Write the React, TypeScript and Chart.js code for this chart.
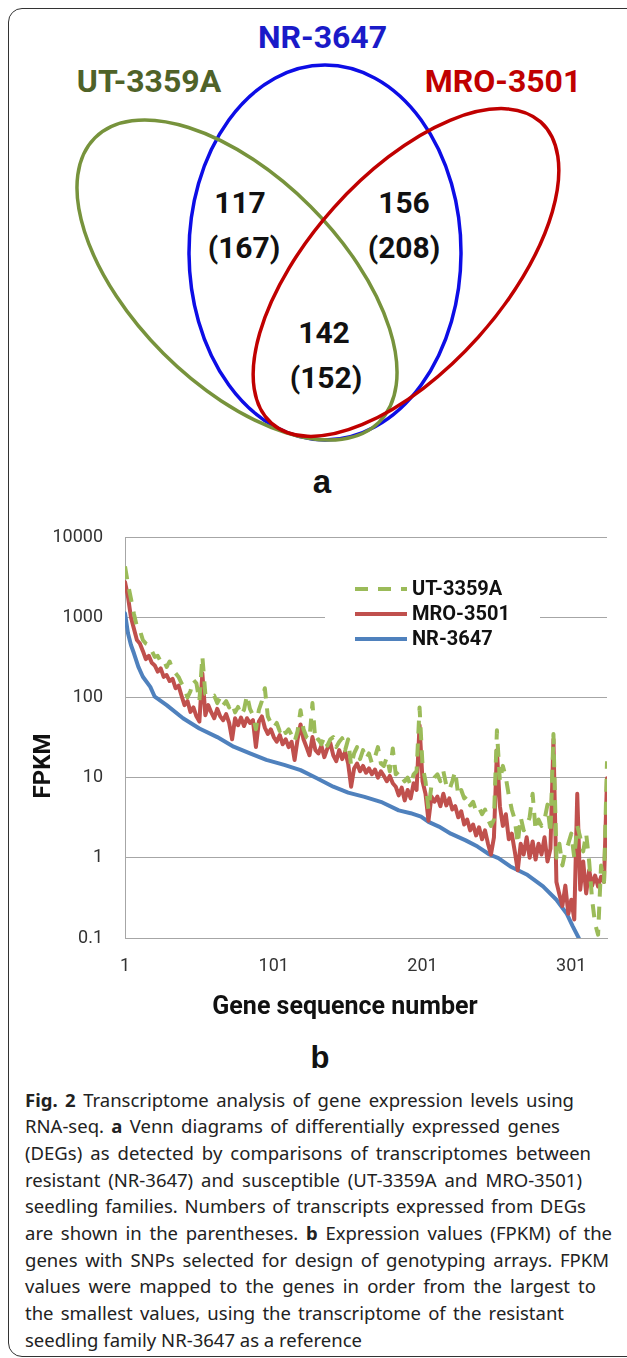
import React, { useEffect, useRef } from "react";
import { Chart, registerables } from "chart.js";

Chart.register(...registerables);

// ---------- Venn (panel a) ----------
const VENN_SETS = ["UT-3359A", "NR-3647", "MRO-3501"];
const VENN_SET_COLORS = ["#4f6228", "#1a1ac8", "#c00000"];
const VENN_RING_COLORS = ["#77933c", "#0d0de6", "#c00000"];
const VENN_GENES = ["117", "156", "142"];
const VENN_TRANSCRIPTS = ["(167)", "(208)", "(152)"];

// ---------- Line chart (panel b) ----------
const SERIES_NAMES = ["UT-3359A", "MRO-3501", "NR-3647"];
const SERIES_COLORS = ["#9BBB59", "#C0504D", "#4F81BD"];
const X_TICKS = [1, 101, 201, 301];
const Y_TICKS = [0.1, 1, 10, 100, 1000, 10000];

const GENE_IDX = [
  1, 3, 5, 7, 9, 11, 13, 15, 17, 19, 21, 23, 25, 27, 29, 31, 33, 35, 37, 39,
  41, 43, 45, 47, 49, 51, 53, 55, 57, 59, 61, 63, 65, 67, 69, 71, 73, 75, 77, 79,
  81, 83, 85, 87, 89, 91, 93, 95, 97, 99, 101, 103, 105, 107, 109, 111, 113, 115, 117, 119,
  121, 123, 125, 127, 129, 131, 133, 135, 137, 139, 141, 143, 145, 147, 149, 151, 153, 155, 157, 159,
  161, 163, 165, 167, 169, 171, 173, 175, 177, 179, 181, 183, 185, 187, 189, 191, 193, 195, 197, 199,
  201, 203, 205, 207, 209, 211, 213, 215, 217, 219, 221, 223, 225, 227, 229, 231, 233, 235, 237, 239,
  241, 243, 245, 247, 249, 251, 253, 255, 257, 259, 261, 263, 265, 267, 269, 271, 273, 275, 277, 279,
  281, 283, 285, 287, 289, 291, 293, 295, 297, 299, 301, 303, 305, 307, 309, 311, 313, 315, 317, 319,
  321, 323, 325,
];

const UT_FPKM = [
  4300, 2600, 1700, 1100, 760, 690, 520, 470, 450, 380,
  320, 330, 280, 295, 240, 280, 220, 200, 180, 150,
  130, 100, 120, 165, 150, 90, 325, 110, 107, 100,
  105, 85, 100, 80, 90, 75, 85, 65, 76, 60,
  70, 107, 72, 60, 40, 70, 90, 130, 58, 48,
  42, 48, 38, 44, 36, 40, 34, 28, 38, 69,
  40, 32, 30, 85, 28, 30, 26, 32, 25, 30,
  32, 24, 28, 31, 22, 30, 14, 20, 24, 17,
  22, 17, 20, 15, 18, 24, 15, 14, 18, 12,
  23, 11, 12, 10, 9, 10, 8, 11, 12, 75,
  14, 9, 4, 8, 10, 11, 9, 12, 8, 7,
  9, 12, 6, 7, 5.5, 6, 4.5, 5, 3.8, 4.2,
  3.5, 4, 3, 2.5, 3, 39, 9, 14, 10, 6,
  4, 3, 1.5, 3.2, 2.2, 2.5, 3.2, 6.3, 2.2, 3,
  2.5, 3, 4.6, 2, 35, 1.0, 1.5, 0.8, 1.2, 1.5,
  2.0, 1.0, 2.5, 1.8, 1.2, 2.0, 0.9, 0.3, 0.15, 0.11,
  0.8, 0.5, 16,
];

const MRO_FPKM = [
  2750, 1800, 1000, 720, 520, 470, 380, 300, 330, 270,
  250, 210, 230, 180, 190, 160, 170, 130, 140, 105,
  80, 90, 66, 75, 58, 50, 200, 60, 80, 65,
  55, 72, 58, 52, 62, 48, 30, 55, 45, 56,
  44, 55, 48, 52, 24, 50, 58, 42, 35, 40,
  32, 28, 34, 26, 30, 24, 28, 16.6, 30, 46,
  30, 24, 19, 32, 22, 20, 25, 18, 23, 27,
  19, 16, 22, 17, 21, 15, 7.7, 13, 15, 12,
  14, 11.5, 13, 11, 12.6, 10, 12, 10.5, 9, 10.5,
  8.5, 7.7, 6, 7.5, 5.2, 7, 5.5, 8.5, 7, 45,
  9, 6.3, 2.9, 5.8, 5, 5.8, 4.4, 6.3, 4.5, 5.5,
  4, 4.4, 3.2, 3.8, 2.6, 3, 2.2, 2.6, 1.9, 2.4,
  1.7, 2.2, 1.5, 1.1, 1.8, 22, 4.4, 2.5, 3.5, 1.7,
  2, 1.2, 0.7, 1.5, 1.1, 1.8, 1.0, 1.6, 0.95, 1.5,
  1.1, 1.8, 0.9, 1.3, 30, 0.5, 0.35, 0.25, 0.45, 0.2,
  0.3, 0.17, 6.3, 0.4, 0.9, 0.36, 0.7, 0.45, 0.6, 0.44,
  0.58, 0.5, 9.8,
];

const NR_IDX = [
  1, 3, 5, 7, 10, 13, 18, 21, 29, 40, 51, 63, 74, 85, 96, 108, 119, 130, 141, 151,
  162, 174, 185, 193, 200, 205, 212, 220, 230, 238, 246, 252, 260, 271, 282, 291, 298, 302, 306, 309,
];
const NR_FPKM = [
  1120, 630, 450, 355, 240, 181, 135, 102, 80, 55, 41, 32, 24.3, 20, 16.6, 14.4, 12.4, 9.8, 7.7, 6.5,
  5.75, 4.9, 3.9, 3.6, 3.26, 2.8, 2.45, 2.0, 1.65, 1.38, 1.1, 0.99, 0.78, 0.62, 0.44, 0.3, 0.2, 0.14, 0.1, 0.08,
];

const CAPTION_LINES: { parts: [string, boolean][]; width: number | null }[] = [
  { parts: [["Fig. 2", true], [" Transcriptome analysis of gene expression levels using", false]], width: 549 },
  { parts: [["RNA-seq. ", false], ["a", true], [" Venn diagrams of differentially expressed genes", false]], width: 535 },
  { parts: [["(DEGs) as detected by comparisons of transcriptomes between", false]], width: 566 },
  { parts: [["resistant (NR-3647) and susceptible (UT-3359A and MRO-3501)", false]], width: 557 },
  { parts: [["seedling families. Numbers of transcripts expressed from DEGs", false]], width: 561 },
  { parts: [["are shown in the parentheses. ", false], ["b", true], [" Expression values (FPKM) of the", false]], width: 587 },
  { parts: [["genes with SNPs selected for design of genotyping arrays. FPKM", false]], width: 584 },
  { parts: [["values were mapped to the genes in order from the largest to", false]], width: 571 },
  { parts: [["the smallest values, using the transcriptome of the resistant", false]], width: 539 },
  { parts: [["seedling family NR-3647 as a reference", false]], width: null },
];

function toPoints(xs: number[], ys: number[]) {
  return xs.map((x, i) => ({ x, y: ys[i] }));
}

const overlayPlugin = {
  id: "overlay",
  beforeDatasetsDraw(chart: any) {
    const ctx = chart.ctx as CanvasRenderingContext2D;
    ctx.save();
    ctx.fillStyle = "#ffffff";
    ctx.fillRect(325, 66, 215, 94);
    const rows = [89, 114, 139];
    chart.data.datasets.forEach((ds: any, i: number) => {
      const y = rows[i];
      ctx.beginPath();
      ctx.strokeStyle = ds.borderColor;
      ctx.lineWidth = ds.borderWidth;
      ctx.lineCap = "butt";
      ctx.setLineDash(ds.borderDash || []);
      ctx.moveTo(355, y);
      ctx.lineTo(407, y);
      ctx.stroke();
      ctx.setLineDash([]);
      ctx.fillStyle = "#111";
      ctx.font = "bold 20px Roboto";
      ctx.textAlign = "left";
      ctx.textBaseline = "middle";
      ctx.fillText(ds.label, 412, y + 1);
    });
    ctx.restore();
  },
  afterDraw(chart: any) {
    const ctx = chart.ctx as CanvasRenderingContext2D;
    ctx.save();
    ctx.fillStyle = "#111";
    ctx.textAlign = "center";
    ctx.textBaseline = "middle";
    ctx.font = "bold 25px Roboto";
    ctx.fillText("Gene sequence number", 345, 508);
    ctx.translate(44, 266);
    ctx.rotate(-Math.PI / 2);
    ctx.font = "bold 24px Roboto";
    ctx.fillText("FPKM", 0, 0);
    ctx.restore();
  },
};

function FpkmChart() {
  const ref = useRef<HTMLCanvasElement>(null);
  useEffect(() => {
    if (!ref.current) return;
    const chart = new Chart(ref.current, {
      type: "line",
      data: {
        datasets: [
          {
            label: SERIES_NAMES[0],
            data: toPoints(GENE_IDX, UT_FPKM),
            borderColor: SERIES_COLORS[0],
            backgroundColor: SERIES_COLORS[0],
            borderWidth: 4,
            borderDash: [13, 10],
            pointRadius: 0,
            tension: 0,
            borderJoinStyle: "round",
          },
          {
            label: SERIES_NAMES[1],
            data: toPoints(GENE_IDX, MRO_FPKM),
            borderColor: SERIES_COLORS[1],
            backgroundColor: SERIES_COLORS[1],
            borderWidth: 4,
            pointRadius: 0,
            tension: 0,
            borderJoinStyle: "round",
            borderCapStyle: "round",
          },
          {
            label: SERIES_NAMES[2],
            data: toPoints(NR_IDX, NR_FPKM),
            borderColor: SERIES_COLORS[2],
            backgroundColor: SERIES_COLORS[2],
            borderWidth: 4,
            pointRadius: 0,
            tension: 0,
            borderJoinStyle: "round",
            borderCapStyle: "round",
          },
        ],
      },
      options: {
        animation: false,
        responsive: false,
        maintainAspectRatio: false,
        layout: { padding: { top: 37, right: 20, left: 0, bottom: 0 } },
        plugins: { legend: { display: false }, tooltip: { enabled: false } },
        scales: {
          x: {
            type: "linear",
            min: 1,
            max: 325,
            grid: { display: false, drawTicks: false },
            border: { display: true, color: "#a6a6a6", width: 1 },
            ticks: {
              autoSkip: false,
              maxRotation: 0,
              padding: 18,
              color: "#333",
              font: { family: "Roboto", size: 18 },
              callback: (v: any) => String(v),
            },
            afterBuildTicks: (s: any) => {
              s.ticks = X_TICKS.map((value) => ({ value }));
            },
            afterFit: (s: any) => {
              s.height = 102;
            },
          },
          y: {
            type: "logarithmic",
            min: 0.1,
            max: 10000,
            grid: { color: "#a6a6a6", lineWidth: 1, drawTicks: false },
            border: { display: true, color: "#a6a6a6", width: 1 },
            ticks: {
              autoSkip: false,
              padding: 22,
              color: "#333",
              font: { family: "Roboto", size: 18 },
              callback: (v: any) => String(v),
            },
            afterBuildTicks: (s: any) => {
              s.ticks = Y_TICKS.map((value) => ({ value }));
            },
            afterFit: (s: any) => {
              s.width = 125;
            },
          },
        },
      } as any,
      plugins: [overlayPlugin],
    });
    return () => chart.destroy();
  }, []);
  return (
    <canvas
      ref={ref}
      width={627}
      height={540}
      style={{ position: "absolute", left: 0, top: 500, width: 627, height: 540 }}
    />
  );
}

export default function App() {
  const numFont = { fontFamily: "Roboto", fontWeight: 700, fontSize: 30 } as const;
  const setFont = { fontFamily: "Roboto", fontWeight: 700, fontSize: 32 } as const;
  return (
    <div
      style={{
        position: "fixed",
        left: 0,
        top: 0,
        width: 627,
        height: 1358,
        overflow: "hidden",
        background: "#fff",
      }}
    >
      <div
        style={{
          position: "absolute",
          left: 8,
          top: 8,
          width: 680,
          height: 1349,
          border: "1.5px solid #333",
          borderRadius: 14,
          boxSizing: "border-box",
        }}
      />
      <svg width={627} height={1358} style={{ position: "absolute", left: 0, top: 0 }}>
        <ellipse cx={325} cy={252.5} rx={136} ry={187.5} fill="none" stroke={VENN_RING_COLORS[1]} strokeWidth={3.5} />
        <ellipse cx={237} cy={280} rx={201} ry={104} transform="rotate(45 237 280)" fill="none" stroke={VENN_RING_COLORS[0]} strokeWidth={3.5} />
        <ellipse cx={406} cy={272.5} rx={202} ry={97} transform="rotate(-48.2 406 272.5)" fill="none" stroke={VENN_RING_COLORS[2]} strokeWidth={3.5} />
        <text x={149} y={92} textAnchor="middle" fill={VENN_SET_COLORS[0]} style={setFont}>{VENN_SETS[0]}</text>
        <text x={322.5} y={48} textAnchor="middle" fill={VENN_SET_COLORS[1]} style={setFont}>{VENN_SETS[1]}</text>
        <text x={503} y={92} textAnchor="middle" fill={VENN_SET_COLORS[2]} style={setFont}>{VENN_SETS[2]}</text>
        <text x={240} y={213} textAnchor="middle" fill="#111" style={numFont}>{VENN_GENES[0]}</text>
        <text x={244} y={258} textAnchor="middle" fill="#111" style={numFont}>{VENN_TRANSCRIPTS[0]}</text>
        <text x={404} y={213} textAnchor="middle" fill="#111" style={numFont}>{VENN_GENES[1]}</text>
        <text x={404} y={258} textAnchor="middle" fill="#111" style={numFont}>{VENN_TRANSCRIPTS[1]}</text>
        <text x={324} y={343} textAnchor="middle" fill="#111" style={numFont}>{VENN_GENES[2]}</text>
        <text x={326} y={388} textAnchor="middle" fill="#111" style={numFont}>{VENN_TRANSCRIPTS[2]}</text>
        <text x={322} y={493} textAnchor="middle" fill="#111" style={{ fontFamily: "Liberation Sans, Arial", fontWeight: 700, fontSize: 33 }}>a</text>
        <text x={320} y={1068} textAnchor="middle" fill="#111" style={{ fontFamily: "Liberation Sans, Arial", fontWeight: 700, fontSize: 31 }}>b</text>
      </svg>
      <FpkmChart />
      <div
        style={{
          position: "absolute",
          left: 25,
          top: 1086.5,
          fontFamily: "'Noto Sans', sans-serif",
          fontSize: 18.5,
          lineHeight: "26.7px",
          color: "#222",
        }}
      >
        {CAPTION_LINES.map((line, i) => (
          <div
            key={i}
            style={{
              width: line.width ?? 600,
              height: 26.7,
              textAlign: line.width ? "justify" : "left",
              textAlignLast: line.width ? "justify" : "left",
              whiteSpace: "nowrap",
            }}
          >
            {line.parts.map(([t, b], j) => (
              <span key={j} style={{ fontWeight: b ? 700 : 400 }}>
                {t}
              </span>
            ))}
          </div>
        ))}
      </div>
    </div>
  );
}
